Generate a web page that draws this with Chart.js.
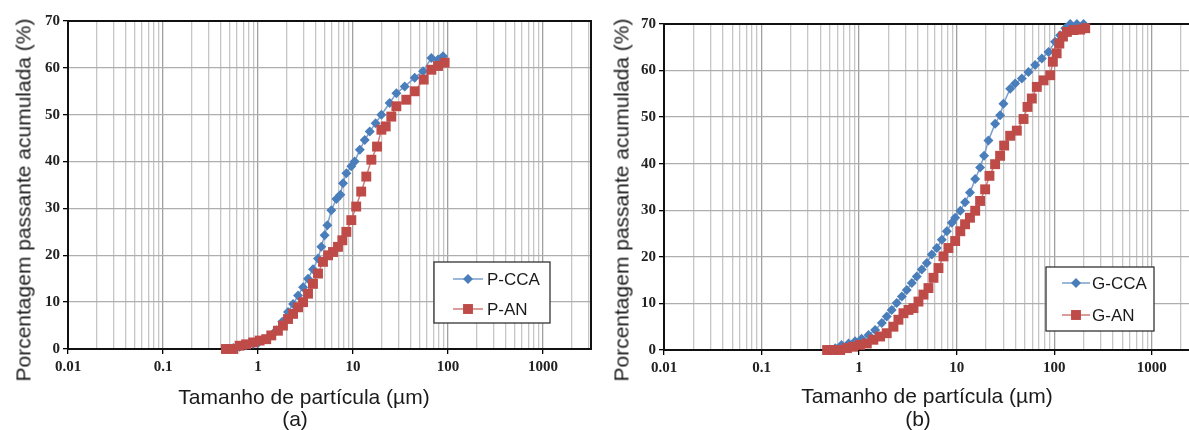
<!DOCTYPE html>
<html>
<head>
<meta charset="utf-8">
<script src="https://cdn.jsdelivr.net/npm/chart.js@4/dist/chart.umd.min.js"></script>
<style>
  html, body { margin: 0; padding: 0; background: #fff; overflow: hidden; }
  body { width: 1189px; height: 430px; position: relative; }
  .wrap { position: absolute; top: 0; height: 430px; }
  .txt {
    position: absolute; white-space: nowrap; color: #1a1a1a;
    font-family: "Liberation Sans", Arial, sans-serif; font-size: 21px;
    transform: translate(-50%, -50%); line-height: 1;
  }
  .rot { transform: translate(-50%, -50%) rotate(-90deg); }
</style>
</head>
<body>
<div class="wrap" style="left:0;width:600px"><canvas id="chartA"></canvas></div>
<div class="wrap" style="left:600px;width:610px"><canvas id="chartB"></canvas></div>

<div class="txt rot" style="left:23px;top:200px">Porcentagem passante acumulada (%)</div>
<div class="txt" style="left:304px;top:396px">Tamanho de partícula (µm)</div>
<div class="txt" style="left:295px;top:418px">(a)</div>

<div class="txt rot" style="left:621px;top:200px">Porcentagem passante acumulada (%)</div>
<div class="txt" style="left:927px;top:395px">Tamanho de partícula (µm)</div>
<div class="txt" style="left:918px;top:418px">(b)</div>

<script>
// particle size (um) / cumulative passing (%)
var pccaSize = [0.46, 0.55, 0.64, 0.75, 0.89, 1.0, 1.22, 1.4, 1.56, 1.8, 2.07, 2.34, 2.64, 2.98, 3.36, 3.79, 4.28, 4.64, 5.03, 5.37, 5.91, 6.68, 7.36, 7.85, 8.51, 9.6, 10.4, 11.8, 13.3, 15.0, 17.3, 19.9, 24.3, 28.6, 35.0, 44.6, 54.6, 66.8, 78.5, 88.6];
var pccaPass = [0, 0.2, 0.5, 0.8, 1.1, 1.3, 2.1, 3.0, 4.0, 5.8, 7.9, 9.6, 11.4, 13.2, 15.0, 17.0, 19.3, 21.8, 24.3, 26.4, 29.6, 32.0, 32.9, 35.4, 37.5, 39.0, 40.0, 42.5, 44.6, 46.4, 48.2, 50.0, 52.5, 54.6, 56.0, 57.9, 59.3, 62.1, 61.8, 62.5];

var panSize = [0.46, 0.55, 0.64, 0.75, 0.89, 1.04, 1.22, 1.38, 1.62, 1.83, 2.07, 2.34, 2.64, 2.98, 3.36, 3.79, 4.28, 4.83, 5.46, 6.16, 6.95, 7.72, 8.51, 9.6, 10.8, 12.2, 13.8, 15.6, 17.9, 19.9, 22.1, 25.3, 28.6, 36.4, 44.6, 55.5, 66.8, 78.5, 92.2];
var panPass = [0, 0, 0.7, 1.0, 1.4, 1.8, 2.1, 2.9, 3.9, 5.0, 6.4, 7.5, 8.9, 10.0, 11.8, 13.9, 16.1, 18.6, 20.0, 20.7, 21.8, 23.2, 25.0, 27.5, 30.4, 33.6, 36.8, 40.4, 43.2, 46.8, 47.5, 49.6, 51.8, 53.2, 55.0, 57.5, 59.6, 60.4, 61.1];

var gccaSize = [0.47, 0.57, 0.66, 0.78, 0.91, 1.06, 1.25, 1.46, 1.71, 1.92, 2.16, 2.43, 2.74, 3.08, 3.47, 3.90, 4.39, 4.94, 5.56, 6.26, 7.05, 7.93, 8.92, 9.66, 10.9, 12.2, 13.7, 15.5, 17.4, 19.1, 21.2, 24.8, 27.9, 30.2, 35.4, 39.8, 46.6, 54.5, 63.8, 74.7, 87.5, 102, 115, 130, 146, 171, 200];
var gccaPass = [0, 0.4, 1.1, 1.4, 1.9, 2.4, 3.2, 4.3, 5.8, 7.2, 8.6, 10.1, 11.5, 12.9, 14.4, 15.8, 17.3, 18.7, 20.5, 21.9, 23.7, 25.5, 27.3, 28.4, 29.9, 31.7, 33.8, 36.7, 39.2, 41.7, 45.0, 48.6, 50.4, 52.9, 56.1, 57.2, 58.3, 59.7, 61.2, 62.6, 64.0, 66.2, 67.6, 69.1, 70, 70, 70];

var ganSize = [0.47, 0.55, 0.64, 0.75, 0.87, 1.02, 1.20, 1.40, 1.64, 1.92, 2.25, 2.53, 2.85, 3.21, 3.61, 4.06, 4.57, 5.14, 5.79, 6.51, 7.33, 8.24, 9.66, 10.9, 12.2, 13.7, 15.5, 17.4, 19.6, 21.7, 24.8, 27.9, 30.7, 35.4, 41.4, 48.5, 53.3, 59.0, 66.4, 77.8, 91.0, 96.9, 106, 113, 123, 135, 158, 185, 208];
var ganPass = [0, 0, 0, 0.4, 0.7, 1.1, 1.4, 2.2, 2.9, 3.6, 5.0, 6.5, 7.9, 8.6, 9.0, 10.4, 11.9, 13.3, 15.5, 17.6, 20.1, 21.9, 23.4, 25.5, 27.0, 28.4, 29.9, 32.0, 34.5, 37.4, 39.9, 41.7, 43.9, 46.0, 47.1, 49.6, 52.2, 54.0, 56.5, 57.9, 59.0, 61.9, 63.7, 65.8, 67.3, 68.3, 68.7, 68.8, 69.1];

var decades = [0.01, 0.1, 1, 10, 100, 1000];
var xMin = 0.01, xMax = 3200;
var yMin = 0, yMax = 70, yStep = 10;

(function () {
  "use strict";

  var BLUE = "#4a7ebb", BLUE_LINE = "#7aa0cf";
  var RED = "#be4b48", RED_LINE = "#cf7c79";
  var SERIF = "'Liberation Serif', 'Times New Roman', serif";
  var SANS = "'Liberation Sans', Arial, sans-serif";

  function isDecade(v) {
    var l = Math.log10(v);
    return Math.abs(l - Math.round(l)) < 1e-9;
  }

  function points(xs, ys) {
    return xs.map(function (x, i) { return { x: x, y: ys[i] }; });
  }

  // 1..9 x 10^n grid ticks
  function logTicks() {
    var out = [];
    decades.forEach(function (d) {
      for (var k = 1; k <= 9; k++) {
        var v = parseFloat((k * d).toPrecision(6));
        if (v >= xMin && v <= xMax) out.push({ value: v, major: k === 1 });
      }
    });
    return out;
  }

  function drawMarker(ctx, style, x, y, r) {
    ctx.beginPath();
    if (style === "rectRot") {
      ctx.moveTo(x, y - r); ctx.lineTo(x + r, y); ctx.lineTo(x, y + r); ctx.lineTo(x - r, y);
    } else {
      var s = r * Math.SQRT1_2;
      ctx.rect(x - s, y - s, 2 * s, 2 * s);
    }
    ctx.closePath();
    ctx.fill();
  }

  // black frame around plot area
  var frame = {
    id: "frame",
    beforeDatasetsDraw: function (chart) {
      var a = chart.chartArea, ctx = chart.ctx;
      ctx.save();
      ctx.strokeStyle = "#111";
      ctx.lineWidth = 2;
      ctx.strokeRect(a.left, a.top, a.right - a.left, a.bottom - a.top);
      ctx.restore();
    }
  };

  // boxed legend inside the plot
  var boxLegend = {
    id: "boxLegend",
    afterDraw: function (chart, args, o) {
      var ctx = chart.ctx, a = chart.chartArea;
      var x = a.left + o.left, y = a.top + o.top;
      ctx.save();
      ctx.fillStyle = "#fff";
      ctx.fillRect(x, y, o.width, o.height);
      ctx.strokeStyle = "#333";
      ctx.lineWidth = 1.3;
      ctx.strokeRect(x, y, o.width, o.height);
      ctx.font = "17px " + SANS;
      ctx.textBaseline = "middle";
      chart.data.datasets.forEach(function (ds, i) {
        var ry = y + o.rows[i];
        ctx.strokeStyle = ds.borderColor;
        ctx.lineWidth = 1.5;
        ctx.beginPath();
        ctx.moveTo(x + o.lineFrom, ry);
        ctx.lineTo(x + o.lineTo, ry);
        ctx.stroke();
        ctx.fillStyle = ds.pointBackgroundColor;
        drawMarker(ctx, ds.pointStyle, x + (o.lineFrom + o.lineTo) / 2, ry, ds.pointRadius);
        ctx.fillStyle = "#1a1a1a";
        ctx.fillText(ds.label, x + o.text, ry + 1);
      });
      ctx.restore();
    }
  };

  function makeChart(id, series, layout) {
    var canvas = document.getElementById(id);
    return new Chart(canvas.getContext("2d"), {
      type: "line",
      data: {
        datasets: [
          {
            label: series[0].label,
            data: points(series[0].x, series[0].y),
            borderColor: BLUE_LINE,
            borderWidth: 1.5,
            pointStyle: "rectRot",
            pointRadius: 5,
            pointBackgroundColor: BLUE,
            pointBorderWidth: 0,
            clip: false,
            order: 1
          },
          {
            label: series[1].label,
            data: points(series[1].x, series[1].y),
            borderColor: RED_LINE,
            borderWidth: 1.5,
            pointStyle: "rect",
            pointRadius: 7,
            pointBackgroundColor: RED,
            pointBorderWidth: 0,
            clip: false,
            order: 0
          }
        ]
      },
      options: {
        responsive: true,
        maintainAspectRatio: false,
        animation: false,
        layout: { padding: { top: layout.top, right: layout.right, left: 0, bottom: 0 } },
        plugins: {
          legend: { display: false },
          tooltip: { enabled: false },
          boxLegend: layout.legend
        },
        scales: {
          x: {
            type: "logarithmic",
            min: xMin,
            max: xMax,
            afterBuildTicks: function (scale) { scale.ticks = logTicks(); },
            afterFit: function (scale) { scale.height = layout.xHeight; },
            grid: {
              color: function (c) { return c.tick && c.tick.major ? "#a0a0a0" : "#c6c6c6"; },
              tickColor: function (c) { return c.tick && c.tick.major ? "#000" : "rgba(0,0,0,0)"; },
              tickLength: 5,
              lineWidth: 1.3
            },
            border: { color: "#111", width: 2 },
            ticks: {
              autoSkip: false,
              maxRotation: 0,
              padding: 4,
              color: "#222",
              font: { family: SERIF, size: 15, weight: "bold" },
              callback: function (v) { return isDecade(v) ? String(v) : ""; }
            }
          },
          y: {
            min: yMin,
            max: yMax,
            afterFit: function (scale) { scale.width = layout.yWidth; },
            grid: { color: "#aeaeae", tickColor: "#000", tickLength: 5, lineWidth: 1.3 },
            border: { color: "#111", width: 2 },
            ticks: {
              stepSize: yStep,
              padding: 3,
              color: "#222",
              font: { family: SERIF, size: 15, weight: "bold" }
            }
          }
        }
      },
      plugins: [frame, boxLegend]
    });
  }

  function init() {
    makeChart("chartA", [
      { label: "P-CCA", x: pccaSize, y: pccaPass },
      { label: "P-AN", x: panSize, y: panPass }
    ], {
      top: 21, right: 9, yWidth: 68, xHeight: 81,
      legend: { left: 366, top: 241, width: 116, height: 61, rows: [17, 47], lineFrom: 19, lineTo: 49, text: 53 }
    });

    makeChart("chartB", [
      { label: "G-CCA", x: gccaSize, y: gccaPass },
      { label: "G-AN", x: ganSize, y: ganPass }
    ], {
      top: 24, right: 9, yWidth: 64, xHeight: 80,
      legend: { left: 382, top: 243, width: 108, height: 64, rows: [16, 48], lineFrom: 16, lineTo: 44, text: 46 }
    });
  }

  if (document.readyState === "loading") {
    document.addEventListener("DOMContentLoaded", init);
  } else {
    init();
  }
})();
</script>
</body>
</html>
